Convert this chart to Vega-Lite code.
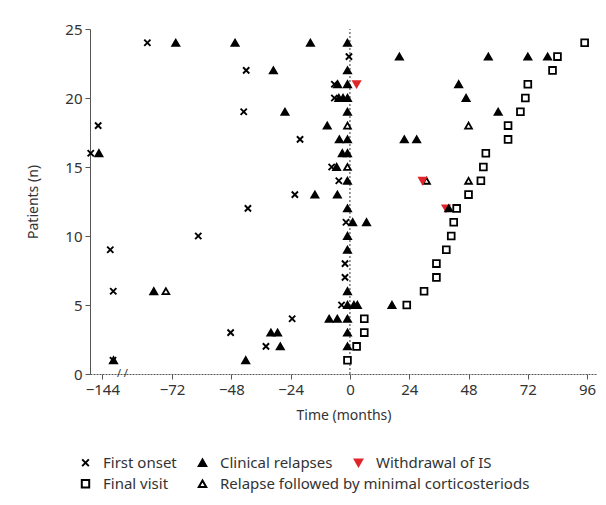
{
  "$schema": "https://vega.github.io/schema/vega-lite/v6.json",
  "width": 507,
  "height": 345,
  "autosize": "none",
  "padding": {"left": 90, "top": 29, "right": 9, "bottom": 131},
  "background": "white",
  "config": {
    "view": {"stroke": null},
    "font": "Noto Sans",
    "axis": {
      "grid": false,
      "domainColor": "#555",
      "tickColor": "#555",
      "labelColor": "#333",
      "titleColor": "#333",
      "labelFontSize": 15,
      "titleFontSize": 14,
      "titleFontWeight": "normal",
      "tickSize": 5,
      "labelPadding": 3
    },
    "legend": {
      "orient": "none",
      "direction": "horizontal",
      "labelFontSize": 15,
      "labelColor": "#333",
      "labelLimit": 400,
      "symbolSize": 55,
      "symbolStrokeWidth": 2,
      "labelOffset": 10
    }
  },
  "data": {
    "values": [
      {"x": -82, "y": 24, "type": "First onset"},
      {"x": -70.5, "y": 24, "type": "Clinical relapses"},
      {"x": -46.5, "y": 24, "type": "Clinical relapses"},
      {"x": -16, "y": 24, "type": "Clinical relapses"},
      {"x": -1, "y": 24, "type": "Clinical relapses"},
      {"x": 95, "y": 24, "type": "Final visit"},
      {"x": -0.4, "y": 23, "type": "First onset"},
      {"x": 20, "y": 23, "type": "Clinical relapses"},
      {"x": 56, "y": 23, "type": "Clinical relapses"},
      {"x": 72, "y": 23, "type": "Clinical relapses"},
      {"x": 80, "y": 23, "type": "Clinical relapses"},
      {"x": 84, "y": 23, "type": "Final visit"},
      {"x": -42, "y": 22, "type": "First onset"},
      {"x": -31, "y": 22, "type": "Clinical relapses"},
      {"x": -1, "y": 22, "type": "Clinical relapses"},
      {"x": 82, "y": 22, "type": "Final visit"},
      {"x": -6.3, "y": 21, "type": "First onset"},
      {"x": -5, "y": 21, "type": "Clinical relapses"},
      {"x": -1, "y": 21, "type": "Clinical relapses"},
      {"x": 2.7, "y": 21, "type": "Withdrawal of IS"},
      {"x": 44, "y": 21, "type": "Clinical relapses"},
      {"x": 72, "y": 21, "type": "Final visit"},
      {"x": -6.3, "y": 20, "type": "First onset"},
      {"x": -4.5, "y": 20, "type": "Clinical relapses"},
      {"x": -2.8, "y": 20, "type": "Clinical relapses"},
      {"x": -1, "y": 20, "type": "Clinical relapses"},
      {"x": 47, "y": 20, "type": "Clinical relapses"},
      {"x": 71, "y": 20, "type": "Final visit"},
      {"x": -43, "y": 19, "type": "First onset"},
      {"x": -26.3, "y": 19, "type": "Clinical relapses"},
      {"x": -1, "y": 19, "type": "Clinical relapses"},
      {"x": 60, "y": 19, "type": "Clinical relapses"},
      {"x": 69, "y": 19, "type": "Final visit"},
      {"x": -145.7, "y": 18, "type": "First onset"},
      {"x": -9.2, "y": 18, "type": "Clinical relapses"},
      {"x": -1, "y": 18, "type": "Relapse followed by minimal corticosteriods"},
      {"x": 48, "y": 18, "type": "Relapse followed by minimal corticosteriods"},
      {"x": 64, "y": 18, "type": "Final visit"},
      {"x": -20.2, "y": 17, "type": "First onset"},
      {"x": -4.3, "y": 17, "type": "Clinical relapses"},
      {"x": -1, "y": 17, "type": "Clinical relapses"},
      {"x": 22, "y": 17, "type": "Clinical relapses"},
      {"x": 27, "y": 17, "type": "Clinical relapses"},
      {"x": 64, "y": 17, "type": "Final visit"},
      {"x": -148.7, "y": 16, "type": "First onset"},
      {"x": -145.4, "y": 16, "type": "Clinical relapses"},
      {"x": -3.1, "y": 16, "type": "Clinical relapses"},
      {"x": -1, "y": 16, "type": "Clinical relapses"},
      {"x": 55, "y": 16, "type": "Final visit"},
      {"x": -7.4, "y": 15, "type": "First onset"},
      {"x": -5.4, "y": 15, "type": "Clinical relapses"},
      {"x": -1, "y": 15, "type": "Relapse followed by minimal corticosteriods"},
      {"x": 54, "y": 15, "type": "Final visit"},
      {"x": -4.5, "y": 14, "type": "First onset"},
      {"x": -1, "y": 14, "type": "Clinical relapses"},
      {"x": 29.4, "y": 14, "type": "Withdrawal of IS"},
      {"x": 31, "y": 14, "type": "Relapse followed by minimal corticosteriods"},
      {"x": 48, "y": 14, "type": "Relapse followed by minimal corticosteriods"},
      {"x": 53, "y": 14, "type": "Final visit"},
      {"x": -22.3, "y": 13, "type": "First onset"},
      {"x": -14.2, "y": 13, "type": "Clinical relapses"},
      {"x": -5.1, "y": 13, "type": "Clinical relapses"},
      {"x": 48, "y": 13, "type": "Final visit"},
      {"x": -41.3, "y": 12, "type": "First onset"},
      {"x": -1, "y": 12, "type": "Clinical relapses"},
      {"x": 38.9, "y": 12, "type": "Withdrawal of IS"},
      {"x": 40, "y": 12, "type": "Clinical relapses"},
      {"x": 43.2, "y": 12, "type": "Final visit"},
      {"x": -1.6, "y": 11, "type": "First onset"},
      {"x": 1.1, "y": 11, "type": "Clinical relapses"},
      {"x": 6.7, "y": 11, "type": "Clinical relapses"},
      {"x": 42, "y": 11, "type": "Final visit"},
      {"x": -61.4, "y": 10, "type": "First onset"},
      {"x": -1, "y": 10, "type": "Clinical relapses"},
      {"x": 41, "y": 10, "type": "Final visit"},
      {"x": -140.8, "y": 9, "type": "First onset"},
      {"x": -1, "y": 9, "type": "Clinical relapses"},
      {"x": 39, "y": 9, "type": "Final visit"},
      {"x": -2, "y": 8, "type": "First onset"},
      {"x": 35, "y": 8, "type": "Final visit"},
      {"x": -2, "y": 7, "type": "First onset"},
      {"x": 35, "y": 7, "type": "Final visit"},
      {"x": -139.6, "y": 6, "type": "First onset"},
      {"x": -79.4, "y": 6, "type": "Clinical relapses"},
      {"x": -74.5, "y": 6, "type": "Relapse followed by minimal corticosteriods"},
      {"x": -1, "y": 6, "type": "Clinical relapses"},
      {"x": 30, "y": 6, "type": "Final visit"},
      {"x": -3.4, "y": 5, "type": "First onset"},
      {"x": -1, "y": 5, "type": "Clinical relapses"},
      {"x": 1.6, "y": 5, "type": "Clinical relapses"},
      {"x": 3, "y": 5, "type": "Clinical relapses"},
      {"x": 17, "y": 5, "type": "Clinical relapses"},
      {"x": 23, "y": 5, "type": "Final visit"},
      {"x": -23.4, "y": 4, "type": "First onset"},
      {"x": -8.4, "y": 4, "type": "Clinical relapses"},
      {"x": -5.1, "y": 4, "type": "Clinical relapses"},
      {"x": -1, "y": 4, "type": "Clinical relapses"},
      {"x": 5.8, "y": 4, "type": "Final visit"},
      {"x": -48.3, "y": 3, "type": "First onset"},
      {"x": -32, "y": 3, "type": "Clinical relapses"},
      {"x": -29.3, "y": 3, "type": "Clinical relapses"},
      {"x": -1, "y": 3, "type": "Clinical relapses"},
      {"x": 5.8, "y": 3, "type": "Final visit"},
      {"x": -34, "y": 2, "type": "First onset"},
      {"x": -28.2, "y": 2, "type": "Clinical relapses"},
      {"x": -1, "y": 2, "type": "Clinical relapses"},
      {"x": 2.7, "y": 2, "type": "Final visit"},
      {"x": -139.7, "y": 1, "type": "First onset"},
      {"x": -139.5, "y": 1, "type": "Clinical relapses"},
      {"x": -42.2, "y": 1, "type": "Clinical relapses"},
      {"x": -1, "y": 1, "type": "Final visit"}
    ]
  },
  "resolve": {"scale": {"shape": "independent", "stroke": "independent", "fill": "independent"}},
  "layer": [
    {
      "data": {"values": [{}]},
      "mark": {"type": "rule", "strokeDash": [2, 2], "color": "#333", "strokeWidth": 1},
      "encoding": {
        "x": {"datum": 0, "type": "quantitative"},
        "y": {"datum": 0, "type": "quantitative"},
        "y2": {"datum": 25}
      }
    },
    {
      "transform": [{"filter": {"field": "type", "oneOf": ["Final visit", "Relapse followed by minimal corticosteriods"]}}],
      "mark": {"type": "point", "opacity": 1, "strokeWidth": 1.8, "size": 46},
      "encoding": {
        "x": {
          "field": "x",
          "type": "quantitative",
          "scale": {"domain": [-149, -138, -90, 100], "range": [0, 27.2, 37.6, 507], "zero": false, "nice": false},
          "axis": {"values": [-144, -72, -48, -24, 0, 24, 48, 72, 96], "title": "Time (months)", "titlePadding": 11, "domainDash": [2, 1]}
        },
        "y": {
          "field": "y",
          "type": "quantitative",
          "scale": {"domain": [0, 25], "nice": false},
          "axis": {"values": [0, 5, 10, 15, 20, 25], "title": "Patients (n)", "titlePadding": 24}
        },
        "shape": {
          "field": "type",
          "type": "nominal",
          "scale": {"domain": ["Final visit", "Relapse followed by minimal corticosteriods"], "range": ["square", "triangle-up"]},
          "legend": {"title": null, "orient": "none", "direction": "horizontal", "legendX": -12, "legendY": 447, "columnPadding": 25}
        },
        "stroke": {
          "field": "type",
          "type": "nominal",
          "scale": {"domain": ["Final visit", "Relapse followed by minimal corticosteriods"], "range": ["#000", "#000"]},
          "legend": {"title": null, "orient": "none", "direction": "horizontal", "legendX": -12, "legendY": 447, "columnPadding": 25}
        },
        "fill": {
          "field": "type",
          "type": "nominal",
          "scale": {"domain": ["Final visit", "Relapse followed by minimal corticosteriods"], "range": ["#fff", "#fff"]},
          "legend": {"title": null, "orient": "none", "direction": "horizontal", "legendX": -12, "legendY": 447, "columnPadding": 25}
        }
      }
    },
    {
      "transform": [{"filter": {"field": "type", "oneOf": ["First onset", "Clinical relapses", "Withdrawal of IS"]}}],
      "mark": {"type": "point", "opacity": 1, "strokeWidth": 1.9, "size": 48},
      "encoding": {
        "x": {"field": "x", "type": "quantitative"},
        "y": {"field": "y", "type": "quantitative"},
        "shape": {
          "field": "type",
          "type": "nominal",
          "scale": {"domain": ["First onset", "Clinical relapses", "Withdrawal of IS"], "range": ["M-0.9,-0.9L0.9,0.9M-0.9,0.9L0.9,-0.9", "triangle-up", "triangle-down"]},
          "legend": {"title": null, "orient": "none", "direction": "horizontal", "legendX": -12, "legendY": 426, "columnPadding": 17}
        },
        "stroke": {
          "field": "type",
          "type": "nominal",
          "scale": {"domain": ["First onset", "Clinical relapses", "Withdrawal of IS"], "range": ["#000", "#000", "#e0262b"]},
          "legend": {"title": null, "orient": "none", "direction": "horizontal", "legendX": -12, "legendY": 426, "columnPadding": 17}
        },
        "fill": {
          "field": "type",
          "type": "nominal",
          "scale": {"domain": ["First onset", "Clinical relapses", "Withdrawal of IS"], "range": ["#000", "#000", "#e0262b"]},
          "legend": {"title": null, "orient": "none", "direction": "horizontal", "legendX": -12, "legendY": 426, "columnPadding": 17}
        }
      }
    },
    {
      "data": {"values": [{}]},
      "mark": {"type": "text", "text": "/ /", "fontSize": 11, "color": "#333"},
      "encoding": {
        "x": {"datum": -114, "type": "quantitative"},
        "y": {"datum": 0, "type": "quantitative"}
      }
    }
  ]
}
